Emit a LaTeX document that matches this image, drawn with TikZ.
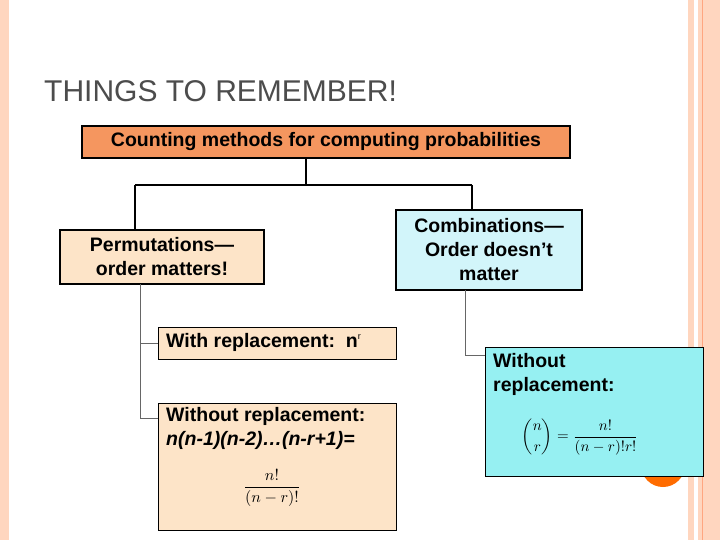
\documentclass[tikz,border=0pt]{standalone}
\usepackage{amsmath}
\usepackage{fontspec}
\setmainfont{Liberation Sans}
\definecolor{peach}{RGB}{253,228,200}
\definecolor{lcyan}{RGB}{210,245,250}
\definecolor{cyanbox}{RGB}{150,240,242}
\definecolor{topor}{RGB}{245,150,95}
\begin{document}
\begin{tikzpicture}[x=1pt,y=-1pt,
  bx/.style={draw=black,line width=1.2pt,font=\bfseries\fontsize{19.5}{24}\selectfont,inner sep=2pt},
  tx/.style={anchor=north west,font=\bfseries\fontsize{19.5}{24}\selectfont,align=left,inner sep=0pt},
  conn/.style={draw=black!60,line width=0.8pt}]
\useasboundingbox (0,0) rectangle (720,540);
\fill[white] (0,0) rectangle (720,540);
\fill[red!30!orange!25] (0,0) rectangle (9,540);
\fill[red!30!orange!25] (688,0) rectangle (694,540);
\fill[red!30!orange!25] (698,0) rectangle (720,540);
\draw[orange!60!red!50,line width=0.8pt] (702,0) -- (702,540);
\fill[orange!85!red] (663,465) circle (22);
\node[anchor=west,text=black!70,font=\fontsize{30}{32}\selectfont,inner sep=0pt] (title) at (44,91) {THINGS TO REMEMBER!};
\node[bx,fill=topor,minimum width=488,minimum height=32] (top) at (326,142) {Counting methods for computing probabilities};
\node[bx,fill=peach,minimum width=204,minimum height=54,align=center] (perm) at (162,257) {Permutations—\\order matters!};
\node[bx,fill=lcyan,minimum width=186,minimum height=80,align=center] (comb) at (489,250) {Combinations—\\Order doesn’t\\matter};
\node[bx,fill=peach,minimum width=238,minimum height=32,anchor=north west] (with) at (158,327) {};
\node[tx] (witht) at (166,333) {With replacement:\ \ n\textsuperscript{\normalfont\small r}};
\node[bx,fill=peach,minimum width=238,minimum height=127,anchor=north west] (wo) at (158,403) {};
\node[tx] (wot) at (166,407) {Without replacement:\\\itshape n(n-1)(n-2)…(n-r+1)=};
\node[scale=1.6] (wof) at (272,488) {$\dfrac{n!}{(n-r)!}$};
\node[bx,fill=cyanbox,minimum width=218,minimum height=129,anchor=north west] (cwo) at (485,347) {};
\node[tx] (cwot) at (493,353) {Without\\replacement:};
\node[scale=1.5] (cwof) at (580,437) {$\dbinom{n}{r}=\dfrac{n!}{(n-r)!r!}$};
\coordinate (j) at (306,185);
\draw[black,line width=2pt] (306,158) -- (j) (135,185) -- (472,185);
\draw[black,line width=2pt] (135,185) -- (perm.north-|135,0) (472,185) -- (comb.north-|472,0);
\draw[conn] (140,284) |- (with.west);
\draw[conn] (140,343) |- (158,418);
\draw[conn] (465,290) |- (cwo.west|-0,355);
\end{tikzpicture}
\end{document}
